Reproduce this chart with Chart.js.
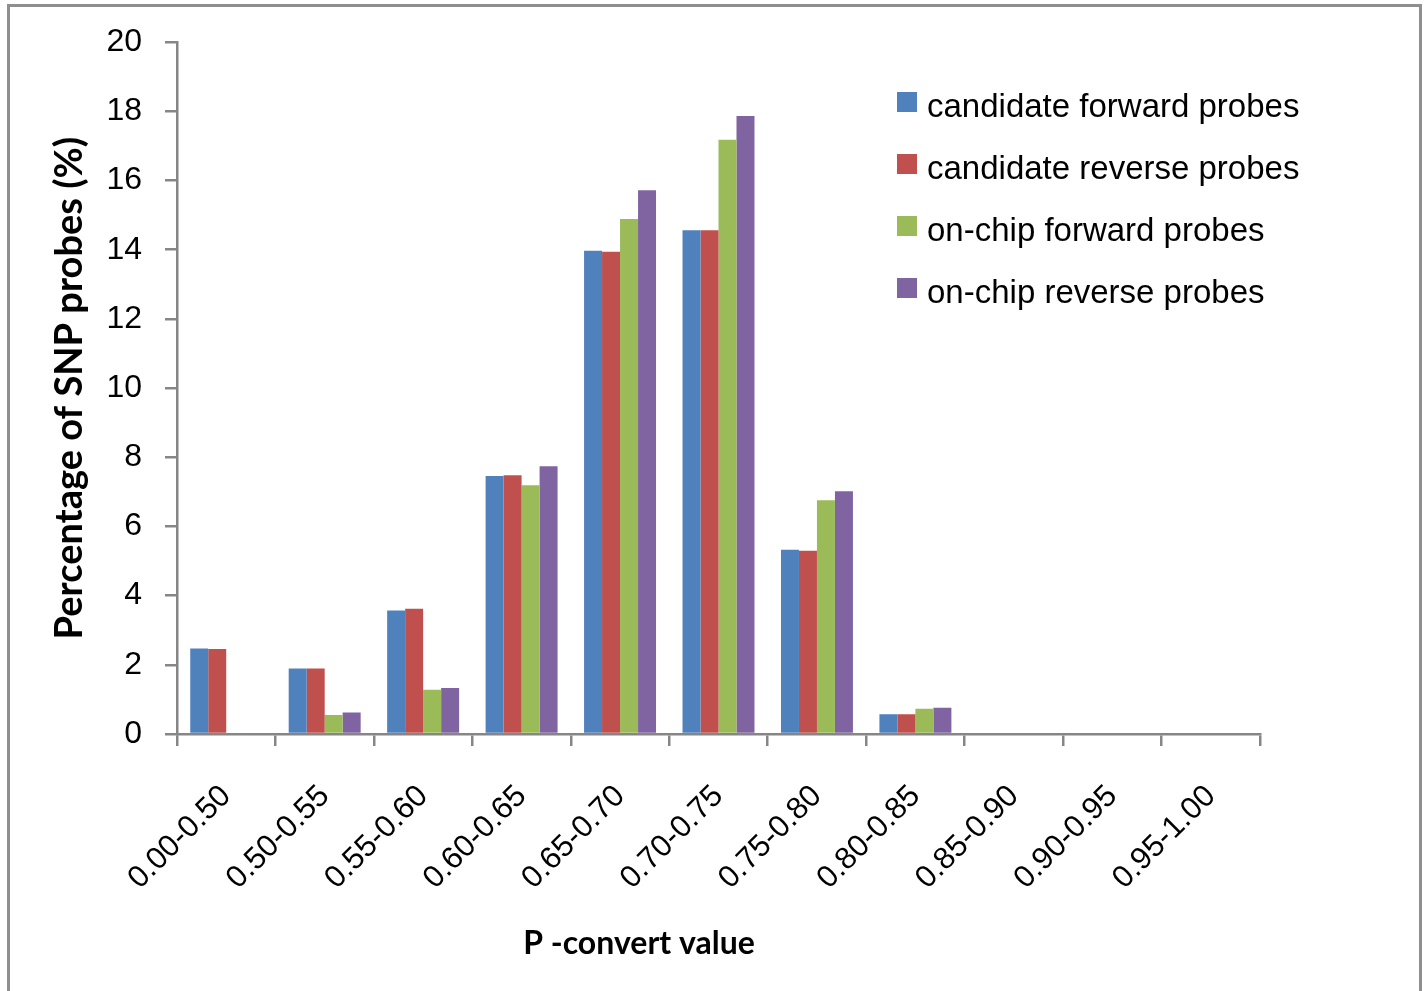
<!DOCTYPE html>
<html>
<head>
<meta charset="utf-8">
<title>P-convert value distribution</title>
<script src="https://cdn.jsdelivr.net/npm/chart.js@4.4.1/dist/chart.umd.min.js"></script>
<style>
    html, body { margin: 0; padding: 0; background: #fff; overflow: hidden; }
    #frame {
        position: absolute; left: 7px; top: 4px; width: 1415px; height: 1010px;
        border: 3px solid #8f8f8f; box-sizing: border-box;
    }
    #probeChart { position: absolute; left: 0; top: 0; }
</style>
</head>
<body>
<div id="frame"></div>
<canvas id="probeChart" width="1424" height="991"></canvas>
<script>
// P-convert bins and percentage of SNP probes per bin
const categories = ['0.00-0.50', '0.50-0.55', '0.55-0.60', '0.60-0.65', '0.65-0.70', '0.70-0.75',
    '0.75-0.80', '0.80-0.85', '0.85-0.90', '0.90-0.95', '0.95-1.00'];
const candidateForward = [2.47, 1.89, 3.57, 7.46, 13.97, 14.56, 5.33, 0.57, 0, 0, 0];
const candidateReverse = [2.46, 1.89, 3.62, 7.48, 13.94, 14.56, 5.30, 0.57, 0, 0, 0];
const onChipForward = [0, 0.55, 1.28, 7.19, 14.89, 17.18, 6.76, 0.73, 0, 0, 0];
const onChipReverse = [0, 0.62, 1.33, 7.74, 15.72, 17.87, 7.02, 0.76, 0, 0, 0];
const seriesLabels = ['candidate forward probes', 'candidate reverse probes',
    'on-chip forward probes', 'on-chip reverse probes'];
const seriesColors = ['#4F81BD', '#C0504D', '#9BBB59', '#8064A2'];

const axisGray = '#868686';

// Legend drawn inside the plot, top right
const legendBox = {
    id: 'legendBox',
    afterDraw(chart) {
        const ctx = chart.ctx;
        ctx.save();
        ctx.font = '33px "Liberation Sans", Arial, sans-serif';
        ctx.textBaseline = 'middle';
        ctx.textAlign = 'left';
        chart.data.datasets.forEach((ds, i) => {
            const y = 102 + i * 62;
            ctx.fillStyle = ds.backgroundColor;
            ctx.fillRect(897, y - 10, 20, 20);
            ctx.fillStyle = '#000';
            ctx.fillText(ds.label, 927, y + 6);
        });
        ctx.restore();
    }
};

// X axis title sits left of the plot centre
const xTitle = {
    id: 'xTitle',
    afterDraw(chart) {
        const ctx = chart.ctx;
        ctx.save();
        ctx.font = 'bold 32px Lato, "Open Sans", sans-serif';
        ctx.textAlign = 'center';
        ctx.textBaseline = 'middle';
        ctx.fillStyle = '#000';
        ctx.fillText('P -convert value', 639, 944);
        ctx.restore();
    }
};

const ctx = document.getElementById('probeChart').getContext('2d');
new Chart(ctx, {
    type: 'bar',
    data: {
        labels: categories,
        datasets: [candidateForward, candidateReverse, onChipForward, onChipReverse].map((values, i) => ({
            label: seriesLabels[i],
            data: values,
            backgroundColor: seriesColors[i],
            borderWidth: 0
        }))
    },
    options: {
        responsive: false,
        animation: false,
        categoryPercentage: 0.731,
        barPercentage: 1.0,
        layout: { padding: { left: 10, top: 40, right: 164, bottom: 0 } },
        plugins: {
            legend: { display: false },
            tooltip: { enabled: false }
        },
        scales: {
            x: {
                grid: {
                    display: true, drawOnChartArea: false, drawTicks: true,
                    tickLength: 12, color: axisGray, lineWidth: 2.5
                },
                border: { color: axisGray, width: 2.5 },
                ticks: {
                    color: '#000', maxRotation: 45, minRotation: 45, padding: 32,
                    font: { family: '"Liberation Sans", Arial, sans-serif', size: 31 }
                },
                afterFit(scale) { scale.height = 257; }
            },
            y: {
                min: 0, max: 20,
                grid: {
                    display: true, drawOnChartArea: false, drawTicks: true,
                    tickLength: 12, color: axisGray, lineWidth: 2.5
                },
                border: { color: axisGray, width: 2.5 },
                ticks: {
                    stepSize: 2, color: '#000', padding: 23,
                    font: { family: '"Liberation Sans", Arial, sans-serif', size: 32 }
                },
                title: {
                    display: true,
                    text: 'Percentage of SNP probes (%)',
                    color: '#000',
                    padding: { top: 37, bottom: 0 },
                    font: { family: 'Lato, "Open Sans", sans-serif', size: 38, weight: 'bold' }
                },
                afterFit(scale) { scale.width = 167; }
            }
        }
    },
    plugins: [legendBox, xTitle]
});
</script>
</body>
</html>
